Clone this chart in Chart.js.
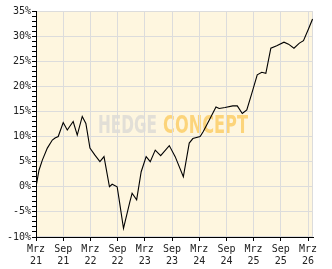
<!DOCTYPE html>
<html><head><meta charset="utf-8">
<script src="https://cdn.jsdelivr.net/npm/chart.js@4.4.1/dist/chart.umd.min.js"></script>
<style>html,body{margin:0;padding:0;background:#fff;}#wrap{width:332px;height:269px;}</style>
</head><body><div id="wrap"><canvas id="c" width="332" height="269"></canvas></div>
<script>
// months since März 2021
const months = [0,0.66,1.4,2.5,3.6,4.2,4.9,6.0,6.9,8.2,9.1,10.2,11.0,11.9,13.0,14.1,15.0,16.2,16.8,17.9,18.3,19.3,20.7,21.2,22.2,23.2,24.3,25.2,26.3,27.5,29.4,30.7,32.5,33.8,34.6,36.2,36.9,38.4,39.7,40.4,41.7,43.4,44.4,45.5,46.5,47.6,48.8,49.8,50.7,51.8,53.1,54.7,55.7,56.9,58.1,59.0,60.1,61.0];
// cumulative performance in %
const returns = [0.0,3.3,5.3,7.7,9.3,9.7,10.0,12.8,11.3,13.0,10.3,14.0,12.6,7.7,6.3,5.0,6.0,0.0,0.5,0.0,-2.3,-8.3,-3.0,-1.3,-2.6,3.0,6.0,5.0,7.3,6.2,8.2,6.0,2.0,8.7,9.6,10.0,11.0,13.6,15.9,15.6,15.8,16.1,16.1,14.6,15.3,18.6,22.3,22.8,22.6,27.6,28.1,28.8,28.4,27.6,28.6,29.1,31.4,33.4];
const tickMonths = [0,6,12,18,24,30,36,42,48,54,60];
const tickLabels = [["Mrz","21"],["Sep","21"],["Mrz","22"],["Sep","22"],["Mrz","23"],["Sep","23"],["Mrz","24"],["Sep","24"],["Mrz","25"],["Sep","25"],["Mrz","26"]];
const yMin = -10, yMax = 35, yMajorStep = 5;
const watermarkParts = ["HEDGE","CONCEPT"];

const points = months.map((m,i)=>({x:m,y:returns[i]}));

const bgPlugin = {
  id:'bg',
  beforeDraw(chart){
    const {ctx, chartArea:a} = chart;
    ctx.save();
    ctx.fillStyle = '#fef6df';
    ctx.fillRect(a.left, a.top, a.right-a.left, a.bottom-a.top);
    ctx.strokeStyle = '#dcdcdc';
    ctx.lineWidth = 1;
    ctx.strokeRect(a.left+0.5, a.top+0.5, a.right-a.left-1, a.bottom-a.top-1);
    // watermark
    ctx.font = 'bold 25px "DejaVu Sans", sans-serif';
    ctx.textBaseline = 'alphabetic';
    ctx.fillStyle = '#e2dfd7';
    ctx.fillText(watermarkParts[0], 98, 133, 59);
    ctx.fillStyle = '#fcd47a';
    ctx.fillText(watermarkParts[1], 163, 133, 85);
    ctx.restore();
  }
};

new Chart(document.getElementById('c'), {
  type:'line',
  data:{datasets:[{data:points, borderColor:'#000', borderWidth:1.1, pointRadius:0, tension:0, fill:false}]},
  options:{
    responsive:false, animation:false, devicePixelRatio:1,
    layout:{padding:{top:11, right:19, left:0, bottom:0}},
    plugins:{legend:{display:false}, tooltip:{enabled:false}},
    scales:{
      x:{
        type:'linear', min:0, max:61.1,
        afterBuildTicks(s){ s.ticks = tickMonths.map(v=>({value:v})); },
        afterFit(s){ s.height = 32; },
        grid:{color:'#dcdcdc', tickColor:'#000', tickLength:4, drawOnChartArea:true},
        border:{color:'#000', width:1},
        ticks:{autoSkip:false, maxRotation:0, padding:2, color:'#222',
          font:{family:'"DejaVu Sans Mono", monospace', size:10, lineHeight:1.2},
          callback(v){ const i = tickMonths.indexOf(v); return i>=0 ? tickLabels[i] : ''; }}
      },
      y:{
        min:yMin, max:yMax,
        afterFit(s){ s.width = 36; },
        grid:{color:c=> (c.tick && c.tick.value % yMajorStep === 0) ? '#dcdcdc' : 'rgba(0,0,0,0)', tickColor:'#000', tickLength:4},
        border:{color:'#000', width:1},
        ticks:{stepSize:1, autoSkip:false, padding:1, color:'#222',
          font:{family:'"DejaVu Sans Mono", monospace', size:10},
          callback(v){ return v % yMajorStep === 0 ? v+'%' : ''; }}
      }
    }
  },
  plugins:[bgPlugin]
});
</script></body></html>
